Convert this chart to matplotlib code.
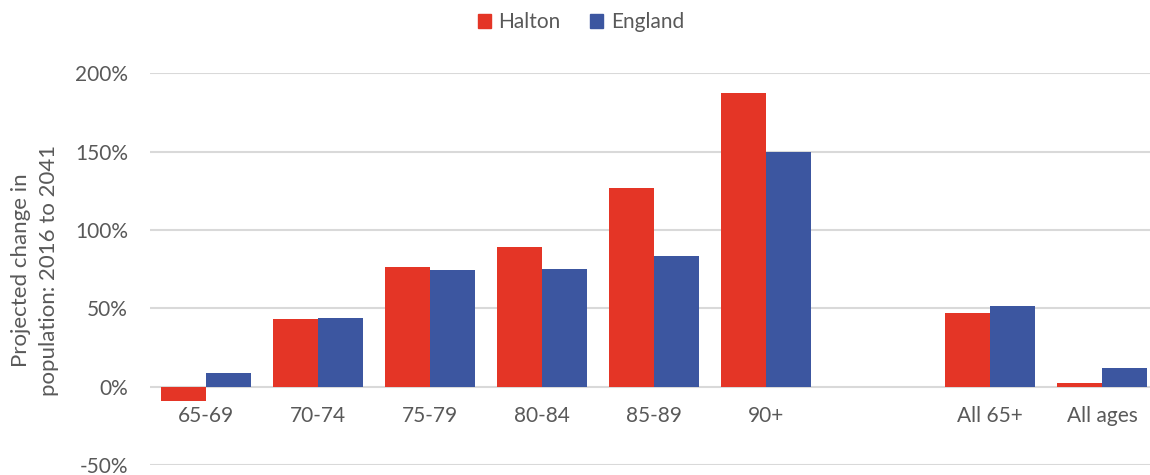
import matplotlib.pyplot as plt
import numpy as np
from matplotlib.ticker import PercentFormatter, MultipleLocator
from matplotlib.patches import Patch

# data (% change in population, 2016 to 2041)
categories = ['65-69', '70-74', '75-79', '80-84', '85-89', '90+', 'All 65+', 'All ages']
halton = [-8.9, 43.0, 76.6, 89.0, 126.6, 187.3, 46.8, 2.1]
england = [8.7, 43.8, 74.3, 74.9, 83.2, 149.9, 51.5, 11.7]

c_halton = '#E43526'
c_england = '#3C56A0'
txt = '#595959'

plt.rcParams['font.family'] = ['Lato', 'DejaVu Sans']
plt.rcParams['font.size'] = 15
plt.rcParams['axes.unicode_minus'] = False

fig = plt.figure(figsize=(11.5, 4.75), dpi=100, facecolor='w')
ax = fig.add_axes([150 / 1150, 10 / 475, 1008 / 1150, 391.7 / 475])

# gap slot between 90+ and All 65+
xx = np.r_[np.arange(6), np.arange(7, 9)]
w = 0.4
ax.bar(xx - w / 2, halton, width=w, color=c_halton, zorder=3)
ax.bar(xx + w / 2, england, width=w, color=c_england, zorder=3)

ax.set_xlim(-0.5, 8.5)
ax.set_ylim(-50, 200)
ax.yaxis.set_major_locator(MultipleLocator(50))
ax.yaxis.set_major_formatter(PercentFormatter(xmax=100, decimals=0))
ax.grid(axis='y', color='#D9D9D9', linewidth=1.5, zorder=0)
ax.set_xticks(xx)
ax.set_xticklabels(categories)
ax.spines['bottom'].set_position(('data', 0))
for s in ax.spines.values():
    s.set_visible(False)
ax.tick_params(axis='both', length=0, colors=txt, labelsize=15)
ax.tick_params(axis='x', pad=14)
ax.tick_params(axis='y', pad=16)

fig.text(35 / 1150, 1 - 270 / 475, 'Projected change in\npopulation: 2016 to 2041',
         rotation=90, ha='center', va='center', color=txt, fontsize=16, linespacing=1.45)

handles = [Patch(color=c_halton, label='Halton'), Patch(color=c_england, label='England')]
leg = fig.legend(handles=handles, loc='center', bbox_to_anchor=(0.505, 1 - 22 / 475), ncol=2,
                 frameon=False, handlelength=0.65, handleheight=0.65, handletextpad=0.35,
                 columnspacing=1.4, fontsize=15)
for t in leg.get_texts():
    t.set_color(txt)

plt.savefig('out.png', dpi=100)
